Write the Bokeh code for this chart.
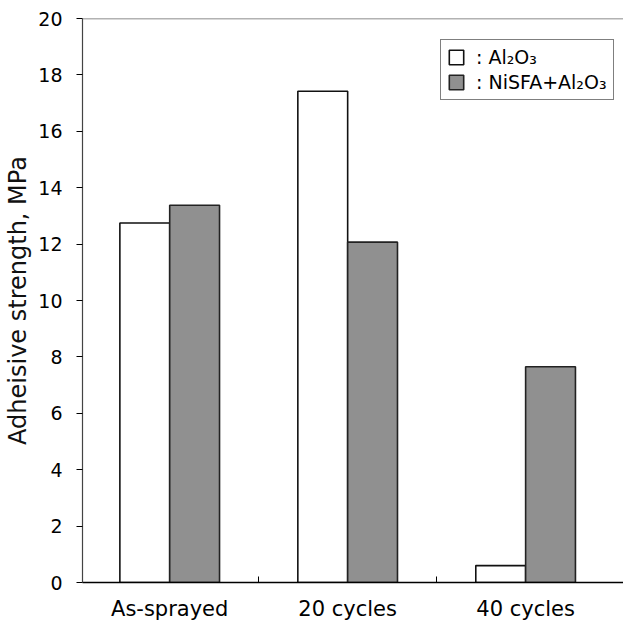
from bokeh.plotting import figure
from bokeh.models import (ColumnDataSource, FixedTicker, Legend, LegendItem, Span, Range1d)
from bokeh.embed import file_html
from bokeh.resources import INLINE

categories = ["As-sprayed", "20 cycles", "40 cycles"]
al2o3 = [12.75, 17.42, 0.6]
nisfa_al2o3 = [13.38, 12.07, 7.65]
y_ticks = [0, 2, 4, 6, 8, 10, 12, 14, 16, 18, 20]

FONT = "DejaVu Sans"

x_pos = [i + 1 for i in range(len(categories))]
offset = 0.14
bar_w = 0.28

src1 = ColumnDataSource(dict(x=[x - offset for x in x_pos], top=al2o3))
src2 = ColumnDataSource(dict(x=[x + offset for x in x_pos], top=nisfa_al2o3))

p = figure(frame_width=541, frame_height=564, output_backend="svg", toolbar_location=None,
           x_range=Range1d(0.51, 3.55), y_range=Range1d(0, 20),
           min_border_left=82, min_border_top=18, min_border_right=0, min_border_bottom=0)
p.outline_line_color = None
p.grid.grid_line_color = None
p.background_fill_color = "white"

r1 = p.vbar(x="x", top="top", bottom=0, width=bar_w, source=src1,
            fill_color="white", line_color="#111111", line_width=1.6)
r2 = p.vbar(x="x", top="top", bottom=0, width=bar_w, source=src2,
            fill_color="#909090", line_color="#222222", line_width=1.6)

# top border line
p.add_layout(Span(location=20, dimension="width", line_color="#666666", line_width=1.5))

# x axis
xa = p.xaxis[0]
xa.ticker = FixedTicker(ticks=x_pos, minor_ticks=[1.5, 2.5])
xa.major_label_overrides = {x: c for x, c in zip(x_pos, categories)}
xa.major_tick_line_color = None
xa.minor_tick_line_color = "black"
xa.minor_tick_in = 6
xa.minor_tick_out = 0
xa.axis_line_color = "black"
xa.axis_line_width = 1.5
xa.major_label_text_font = FONT
xa.major_label_text_font_size = "21px"
xa.major_label_text_color = "black"
xa.major_label_standoff = 8

# y axis
ya = p.yaxis[0]
ya.ticker = FixedTicker(ticks=y_ticks)
ya.minor_tick_line_color = None
ya.major_tick_in = 0
ya.major_tick_out = 6
ya.major_tick_line_color = "black"
ya.axis_line_color = "#444444"
ya.axis_line_width = 1.2
ya.major_label_text_font = FONT
ya.major_label_text_font_size = "19px"
ya.major_label_text_color = "black"
ya.major_label_standoff = 14
ya.axis_label = "Adheisive strength, MPa"
ya.axis_label_text_font = FONT
ya.axis_label_text_font_size = "24px"
ya.axis_label_text_font_style = "normal"
ya.axis_label_text_color = "#111111"
ya.axis_label_standoff = 3

legend = Legend(items=[LegendItem(label=": Al\u2082O\u2083", renderers=[r1]),
                       LegendItem(label=": NiSFA+Al\u2082O\u2083", renderers=[r2])],
                location=(358, 482))
legend.label_text_font = FONT
legend.label_text_font_size = "19px"
legend.label_text_color = "black"
legend.border_line_color = "black"
legend.border_line_width = 1.2
legend.glyph_width = 18
legend.glyph_height = 18
legend.label_standoff = 11
legend.spacing = 3
legend.padding = 6
legend.margin = 0
legend.background_fill_alpha = 1
p.add_layout(legend)

open("out.html", "w").write(file_html(p, INLINE))
